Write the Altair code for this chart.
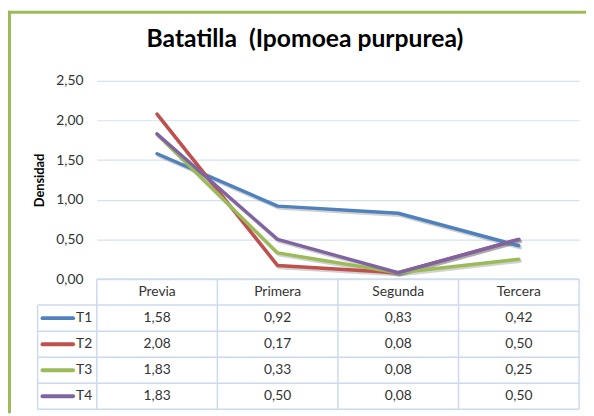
import altair as alt
import pandas as pd

categories = ["Previa", "Primera", "Segunda", "Tercera"]
series = ["T1", "T2", "T3", "T4"]
T1 = [1.58, 0.92, 0.83, 0.42]
T2 = [2.08, 0.17, 0.08, 0.50]
T3 = [1.83, 0.33, 0.08, 0.25]
T4 = [1.83, 0.50, 0.08, 0.50]
colors = ["#4F81BD", "#C0504D", "#9BBB59", "#8064A2"]
y_ticks = [0, 0.5, 1.0, 1.5, 2.0, 2.5]

values = {"T1": T1, "T2": T2, "T3": T3, "T4": T4}
rows = []
for i, s in enumerate(series):
    for c, v in zip(categories, values[s]):
        rows.append({"series": s, "cat": c, "value": v,
                     "pos": i + 1.5, "label": f"{v:.2f}".replace(".", ",")})
df = pd.DataFrame(rows)
hdr = pd.DataFrame({"cat": categories, "pos": [0.5] * len(categories)})
ser = pd.DataFrame({"series": series, "pos": [i + 1.5 for i in range(len(series))]})
hb0 = pd.DataFrame({"b": [0]})
hbs = pd.DataFrame({"b": list(range(1, len(series) + 2))})
vb = pd.DataFrame({"cat": categories, "y0": [0] * 4, "y1": [len(series) + 1] * 4})

W, H = 489, 333
PLOT_H = 201
FONT = "Lato"
TXT = "#333333"
GRID = "#D6E1F0"
TBL = "#CCDAEE"
FRAME = "#9BBB59"

xsc = alt.Scale(type="band", domain=categories, paddingInner=0, paddingOuter=0)
ysc = alt.Scale(domain=[0, 2.5], range=[PLOT_H, 0], nice=False, zero=True)
tsc = alt.Scale(domain=[0, len(series) + 1], range=[PLOT_H, H], nice=False, zero=False)
csc = alt.Scale(domain=series, range=colors)

base = alt.Chart(df)

shadow = base.mark_line(strokeWidth=3.5, color="#000000", opacity=0.18,
                        xOffset=1.5, yOffset=2, strokeJoin="round", strokeCap="round").encode(
    x=alt.X("cat:N", scale=xsc, axis=None, bandPosition=0.5),
    y=alt.Y("value:Q", scale=ysc, axis=None),
    detail="series:N",
)

lines = base.mark_line(strokeWidth=3.5, strokeJoin="round", strokeCap="round").encode(
    x=alt.X("cat:N", scale=xsc, axis=None, bandPosition=0.5),
    y=alt.Y("value:Q", scale=ysc,
            axis=alt.Axis(values=y_ticks, labelExpr="replace(format(datum.value, '.2f'), '.', ',')",
                          domain=False, ticks=False, grid=True, gridColor=GRID, gridWidth=1.2,
                          labelFont=FONT, labelFontSize=14, labelColor=TXT, labelPadding=14,
                          title="Densidad", titleFont=FONT, titleFontSize=13, titleFontWeight="bold",
                          titleColor="#000000", titlePadding=9)),
    color=alt.Color("series:N", scale=csc, legend=None),
)

header_text = alt.Chart(hdr).mark_text(font=FONT, fontSize=14, color=TXT).encode(
    x=alt.X("cat:N", scale=xsc, axis=None, bandPosition=0.5),
    y=alt.Y("pos:Q", scale=tsc, axis=None),
    text="cat:N",
)

cell_text = base.mark_text(font=FONT, fontSize=14, color=TXT).encode(
    x=alt.X("cat:N", scale=xsc, axis=None, bandPosition=0.5),
    y=alt.Y("pos:Q", scale=tsc, axis=None),
    text="label:N",
)

sym = alt.Chart(ser).mark_rule(strokeWidth=4, strokeCap="round").encode(
    x=alt.value(-55), x2=alt.value(-24),
    y=alt.Y("pos:Q", scale=tsc, axis=None),
    color=alt.Color("series:N", scale=csc, legend=None),
)
ser_text = alt.Chart(ser).mark_text(font=FONT, fontSize=14, color=TXT, align="left").encode(
    x=alt.value(-21),
    y=alt.Y("pos:Q", scale=tsc, axis=None),
    text="series:N",
)

h0 = alt.Chart(hb0).mark_rule(color=TBL, strokeWidth=1.5).encode(
    x=alt.value(0), x2=alt.value(W),
    y=alt.Y("b:Q", scale=tsc, axis=None),
)
hrest = alt.Chart(hbs).mark_rule(color=TBL, strokeWidth=1.5).encode(
    x=alt.value(-60), x2=alt.value(W),
    y=alt.Y("b:Q", scale=tsc, axis=None),
)
vrules = alt.Chart(vb).mark_rule(color=TBL, strokeWidth=1.5).encode(
    x=alt.X("cat:N", scale=xsc, axis=None, bandPosition=0),
    y=alt.Y("y0:Q", scale=tsc, axis=None),
    y2="y1:Q",
)
vright = alt.Chart(hb0).mark_rule(color=TBL, strokeWidth=1.5).encode(
    x=alt.value(W),
    y=alt.Y("b:Q", scale=tsc, axis=None),
    y2=alt.value(H),
)
vleft = alt.Chart(hb0).mark_rule(color=TBL, strokeWidth=1.5).encode(
    x=alt.value(-60),
    y=alt.value(PLOT_H + (H - PLOT_H) / (len(series) + 1)),
    y2=alt.value(H),
)

frame_left = alt.Chart(hb0).mark_rule(color=FRAME, strokeWidth=3).encode(
    x=alt.value(-88.5), y=alt.value(-71), y2=alt.value(H + 4),
)
frame_top = alt.Chart(hb0).mark_rule(color=FRAME, strokeWidth=3).encode(
    x=alt.value(-90), x2=alt.value(W + 7), y=alt.value(-69.5),
)

chart = alt.layer(
    shadow, lines, h0, hrest, vrules, vright, vleft,
    header_text, cell_text, sym, ser_text, frame_left, frame_top,
).resolve_scale(y="independent").properties(
    width=W, height=H,
    title=alt.TitleParams("Batatilla\u00a0 (Ipomoea purpurea)", font=FONT, fontSize=25,
                          fontWeight="bold", color="#000000", anchor="middle",
                          frame="bounds", offset=-43, dx=8),
    autosize=alt.AutoSizeParams(type="none"),
    padding={"left": 90, "top": 71, "right": 7, "bottom": 4},
).configure_view(stroke=None)

chart.save("out.html", embed_options={"renderer": "svg", "actions": False})
